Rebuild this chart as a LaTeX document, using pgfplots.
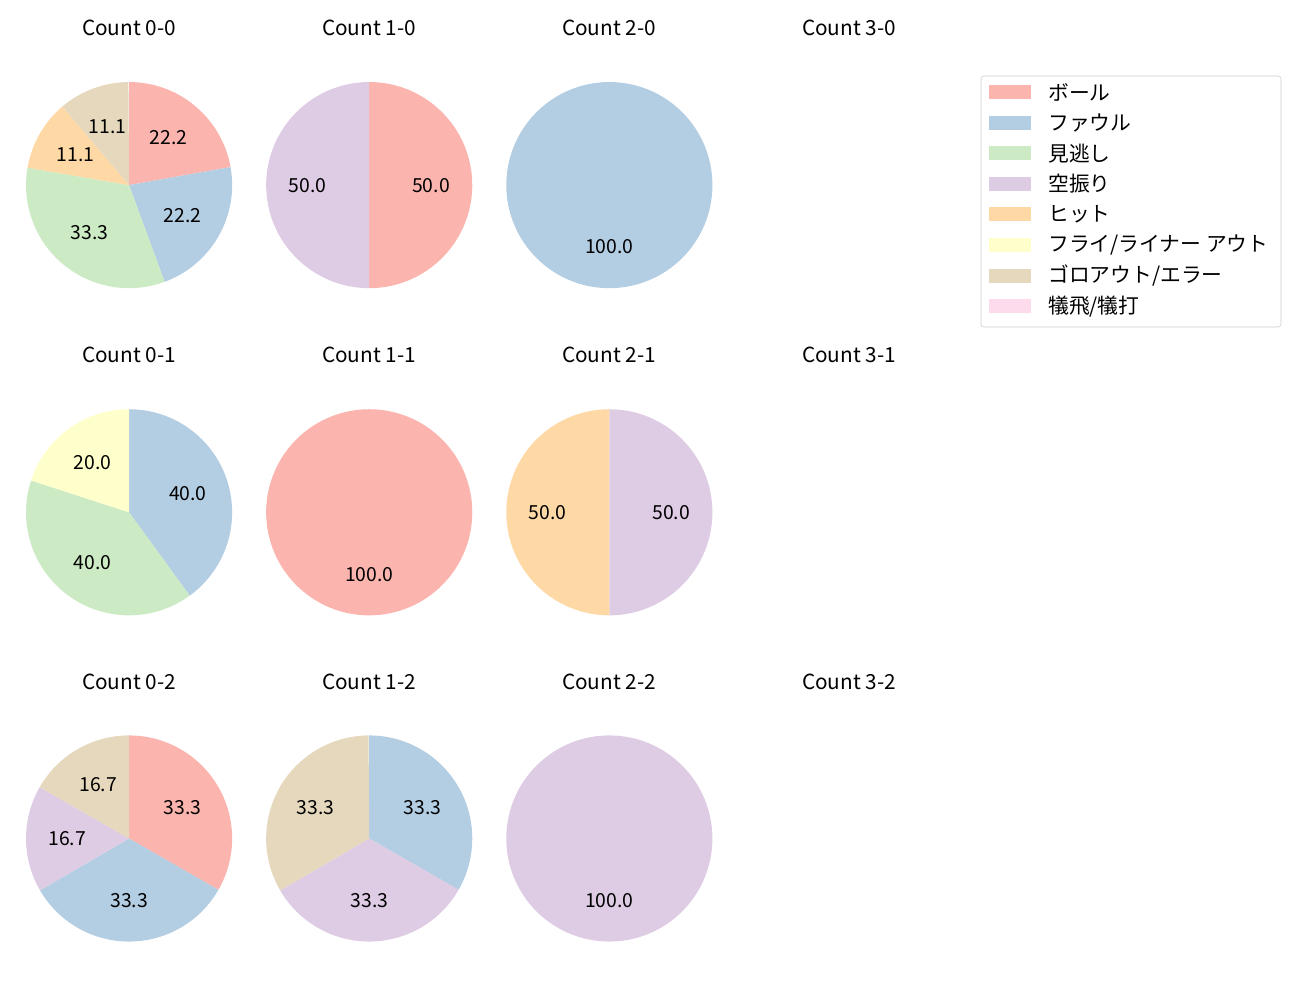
\documentclass[border=0pt]{standalone}
\usepackage{pgfplots}
\pgfplotsset{compat=1.18}
\usepackage{fontspec}
\setmainfont{Noto Sans CJK JP}

% matplotlib Pastel1
\definecolor{cA}{HTML}{FBB4AE}
\definecolor{cB}{HTML}{B3CDE3}
\definecolor{cC}{HTML}{CCEBC5}
\definecolor{cD}{HTML}{DECBE4}
\definecolor{cE}{HTML}{FED9A6}
\definecolor{cF}{HTML}{FFFFCC}
\definecolor{cG}{HTML}{E5D8BD}
\definecolor{cH}{HTML}{FDDAEC}

% wedges go clockwise from 12 o'clock, labels at 0.6 r
\newcommand\pie[1]{%
  \xdef\acc{90}%
  \foreach \v/\c in {#1} {%
    \pgfmathsetmacro\aS{\acc}%
    \pgfmathsetmacro\aE{\acc-3.6*\v}%
    \pgfmathsetmacro\aM{(\aS+\aE)/2}%
    \edef\tmp{\noexpand\fill[\c] (axis cs:0,0) -- (axis cs:{cos(\aS)},{sin(\aS)})
      arc[start angle=\aS, end angle=\aE, radius=1.03in] -- cycle;
      \noexpand\node[font=\noexpand\fontsize{14}{16}\noexpand\selectfont]
      at (axis cs:{0.6*cos(\aM)},{0.6*sin(\aM)}) {\v};}%
    \tmp
    \xdef\acc{\aE}%
  }}

\pgfplotsset{pieax/.style={width=2.06in, height=2.06in, scale only axis,
  hide axis, xmin=-1, xmax=1, ymin=-1, ymax=1, anchor=center}}

% positions in pixels of the 1300x1000 reference, y down
\def\P#1#2{({(#1)*0.01in},{-(#2)*0.01in})}
\newcommand\ttl[3]{\node[font=\fontsize{15}{17}\selectfont] at \P{#1}{#2} {#3};}
\newcommand\leg[3]{%
  \fill[#2] \P{989}{85+30.6*#1} rectangle \P{1031}{99+30.6*#1};
  \node[anchor=west, inner sep=0pt, font=\fontsize{15}{17}\selectfont] at \P{1048}{92+30.6*#1} {#3};}

\begin{document}
\begin{tikzpicture}
\path \P{0}{0} rectangle \P{1300}{1000};

% row 0 strikes
\ttl{129}{28}{Count 0-0}
\begin{axis}[pieax, at={(1.29in,-1.85in)}]
\pie{22.2/cA,22.2/cB,33.3/cC,11.1/cE,11.1/cG}
\end{axis}
\ttl{369}{28}{Count 1-0}
\begin{axis}[pieax, at={(3.69in,-1.85in)}]
\pie{50.0/cA,50.0/cD}
\end{axis}
\ttl{609}{28}{Count 2-0}
\begin{axis}[pieax, at={(6.09in,-1.85in)}]
\pie{100.0/cB}
\end{axis}
\ttl{849}{28}{Count 3-0}

% row 1 strike
\ttl{129}{355}{Count 0-1}
\begin{axis}[pieax, at={(1.29in,-5.12in)}]
\pie{40.0/cB,40.0/cC,20.0/cF}
\end{axis}
\ttl{369}{355}{Count 1-1}
\begin{axis}[pieax, at={(3.69in,-5.12in)}]
\pie{100.0/cA}
\end{axis}
\ttl{609}{355}{Count 2-1}
\begin{axis}[pieax, at={(6.09in,-5.12in)}]
\pie{50.0/cD,50.0/cE}
\end{axis}
\ttl{849}{355}{Count 3-1}

% row 2 strikes
\ttl{129}{682}{Count 0-2}
\begin{axis}[pieax, at={(1.29in,-8.38in)}]
\pie{33.3/cA,33.3/cB,16.7/cD,16.7/cG}
\end{axis}
\ttl{369}{682}{Count 1-2}
\begin{axis}[pieax, at={(3.69in,-8.38in)}]
\pie{33.3/cB,33.3/cD,33.3/cG}
\end{axis}
\ttl{609}{682}{Count 2-2}
\begin{axis}[pieax, at={(6.09in,-8.38in)}]
\pie{100.0/cD}
\end{axis}
\ttl{849}{682}{Count 3-2}

% legend
\draw[black!20, rounded corners=2pt, fill=white] \P{981}{76} rectangle \P{1281}{327};
\leg{0}{cA}{ボール}
\leg{1}{cB}{ファウル}
\leg{2}{cC}{見逃し}
\leg{3}{cD}{空振り}
\leg{4}{cE}{ヒット}
\leg{5}{cF}{フライ/ライナー アウト}
\leg{6}{cG}{ゴロアウト/エラー}
\leg{7}{cH}{犠飛/犠打}
\end{tikzpicture}
\end{document}
